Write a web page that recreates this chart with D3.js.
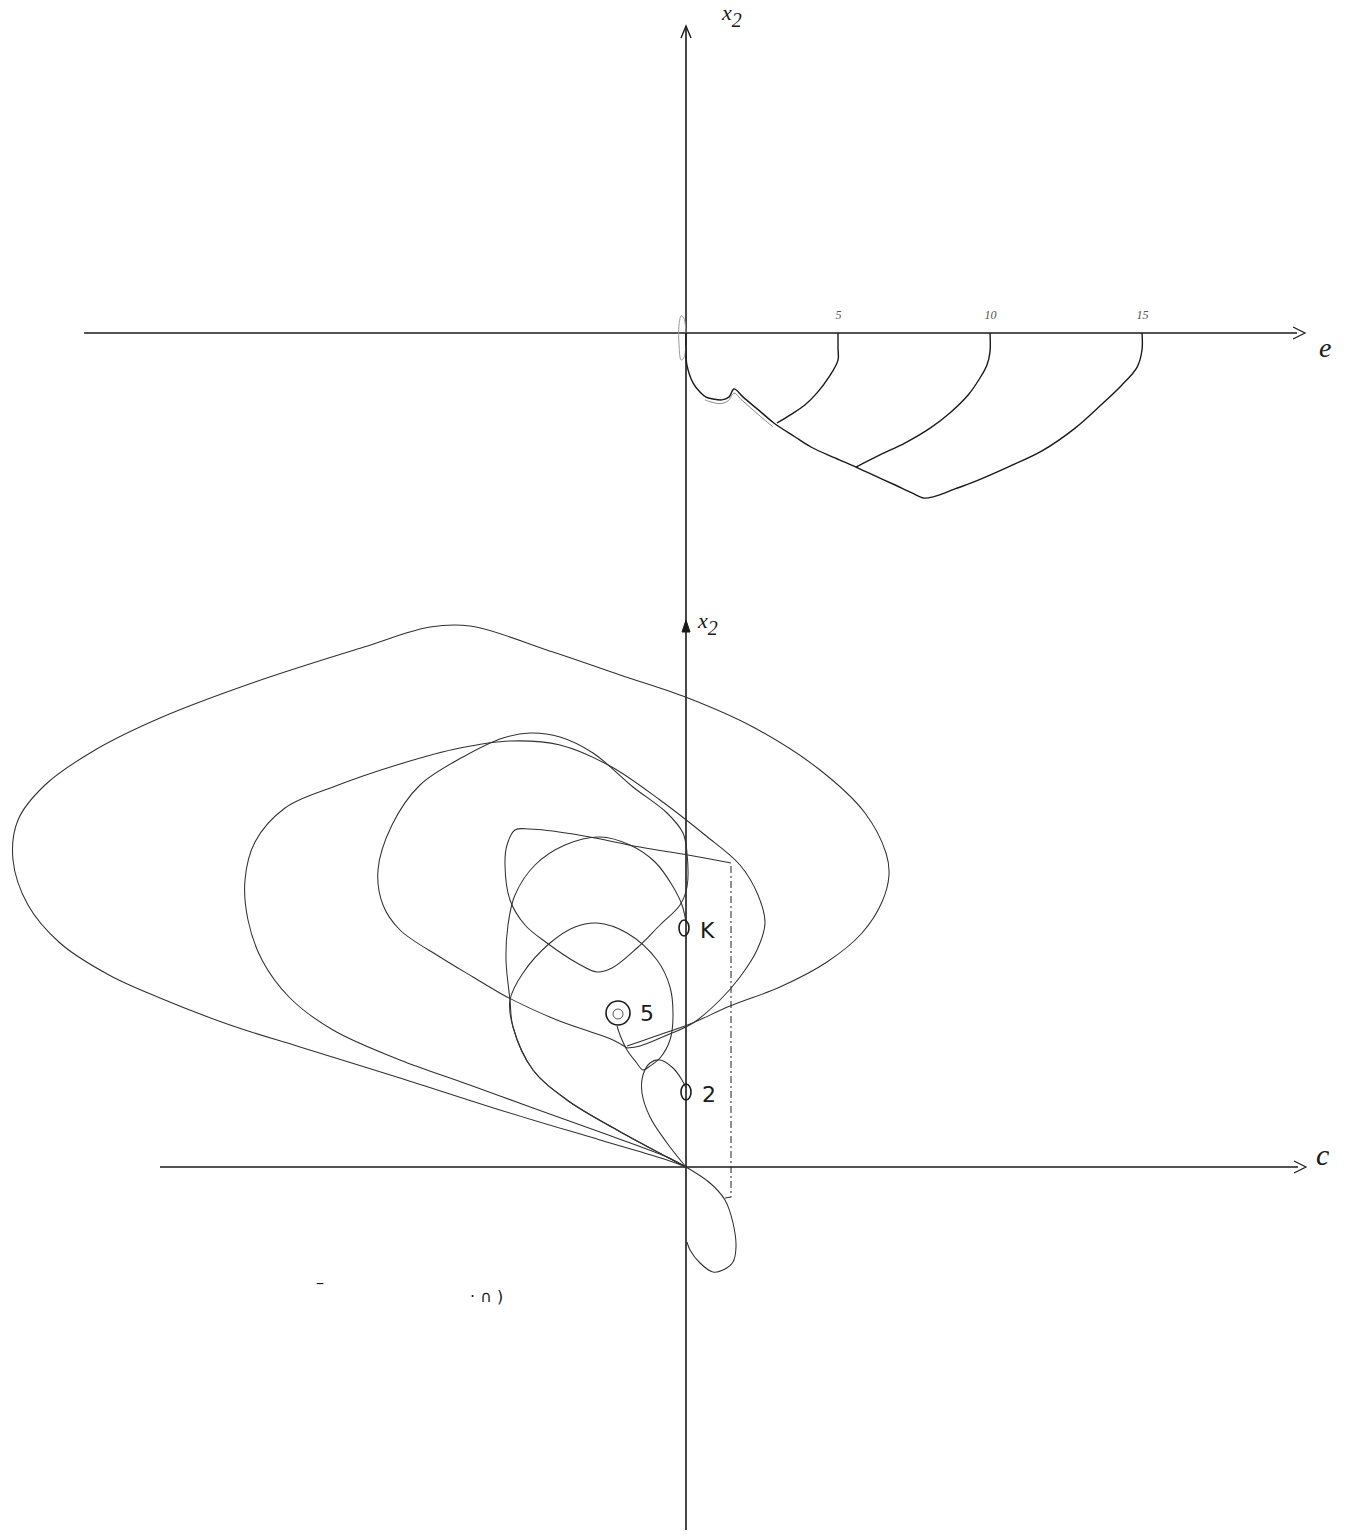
<!DOCTYPE html>
<html><head><meta charset="utf-8">
<script src="https://cdn.jsdelivr.net/npm/d3@7"></script>
<style>
html,body{margin:0;background:#fff;}
svg{display:block;}
</style></head><body>
<svg id="fig" width="1359" height="1539"></svg>
<script>
// ---------- top panel: (e, x2) plane ----------
const eTicks = [5, 10, 15];
const eAxisExtent = [-19.8, 20.1];
const trajE5 = [[5,0],[5.0,-0.49],[5.0,-0.89],[4.70,-1.45],[4.31,-1.97],[3.91,-2.37],[3.42,-2.70],[2.99,-2.96]];
const trajE10 = [[10,0],[10,-0.62],[9.90,-1.05],[9.67,-1.48],[9.28,-2.04],[8.68,-2.63],[8.03,-3.13],[7.20,-3.62],[6.38,-4.01],[5.59,-4.41]];
const trajE15 = [[15,0],[15,-0.56],[14.84,-1.12],[14.34,-1.71],[13.65,-2.37],[12.80,-3.13],[11.71,-3.88],[10.66,-4.38],[9.47,-4.90],[8.85,-5.13],[8.13,-5.39],[7.83,-5.43],[7.43,-5.26],[6.88,-5.00],[6.22,-4.70],[5.59,-4.41],[4.90,-4.11],[4.11,-3.75],[3.59,-3.42],[2.89,-2.96],[2.43,-2.57],[1.88,-2.11],[1.58,-1.84],[1.41,-2.11],[1.18,-2.20],[0.89,-2.17],[0.66,-2.11],[0.46,-1.94],[0.23,-1.64],[0.03,-1.05],[0,-0.56],[0,0]];
const trajE15Shadow = [[2.85,-3.08],[2.40,-2.70],[1.85,-2.22],[1.58,-1.98],[1.40,-2.22],[1.15,-2.32],[0.86,-2.28],[0.62,-2.20]];
const originLoopTop = [[0,0],[-0.07,0.49],[-0.16,0.56],[-0.23,0.26],[-0.23,-0.39],[-0.16,-0.89],[-0.07,-0.82],[0,-0.39]];

// ---------- bottom panel: (c, x2) plane ----------
const cAxisExtent = [-52.6, 61.2];
const trajOuter = [[0,0],[-1.9,0.7],[-8.6,2.7],[-18.6,5.7],[-28.6,8.9],[-38.6,12.0],[-45.6,14.2],[-52.6,16.9],[-57.7,19.2],[-62.6,22.4],[-65.8,26.2],[-67.3,30.7],[-66.8,34.7],[-64.1,38.2],[-59.1,41.7],[-52.6,44.9],[-43.1,48.5],[-32.2,52.0],[-25.6,54.0],[-21.6,54.1],[-13.3,51.5],[-6.6,49.2],[0.2,46.9],[6.7,44.0],[13.4,39.7],[17.9,35.4],[20.0,31.4],[20.3,29.2],[19.6,26.5],[17.6,23.4],[14.1,20.5],[9.4,18.0],[4.4,16.1],[0.4,14.3],[-3.3,13.0],[-5.9,12.1]];
const trajMiddle = [[0,0],[-1.9,1.0],[-8.6,3.5],[-15.3,5.9],[-21.9,8.3],[-28.6,10.7],[-35.3,13.7],[-39.6,16.9],[-42.4,20.7],[-43.8,24.7],[-44.1,28.7],[-43.1,32.5],[-40.1,35.9],[-35.3,38.0],[-28.6,40.3],[-22.6,41.9],[-17.6,42.6],[-12.6,42.2],[-7.6,40.1],[-2.6,36.7],[1.9,33.2],[5.4,30.2],[7.2,27.2],[7.9,24.4],[7.1,21.7],[5.4,19.0],[3.4,16.7],[0.7,14.4],[-2.1,13.1],[-4.6,12.1],[-5.9,11.9]];
const trajInner = [[4.5,30.4],[0.2,31.2],[-4.6,32.0],[-11.3,33.3],[-15.6,33.8],[-17.1,33.7],[-17.9,32.2],[-18.1,30.2],[-17.6,26.7],[-16.1,24.2],[-13.9,22.4],[-10.9,20.4],[-8.9,19.5],[-7.4,19.9],[-4.9,21.9],[-2.6,24.2],[-0.6,26.2],[0.1,28.0],[0.1,31.4],[-0.3,33.4],[-1.9,35.4],[-5.3,38.0],[-9.3,41.4],[-12.6,43.0],[-15.6,43.4],[-18.3,42.9],[-22.3,41.0],[-26.6,38.2],[-29.4,34.2],[-30.8,29.7],[-30.3,26.2],[-28.6,23.7],[-24.6,21.0],[-21.3,19.0],[-17.9,17.0],[-12.9,14.7],[-7.3,12.7],[-5.9,11.9]];
const trajToK = [[0,0],[-1.9,1.0],[-6.9,3.7],[-11.9,6.7],[-15.3,9.7],[-17.3,14.0],[-17.6,16.7],[-18.0,20.7],[-17.8,24.2],[-17.1,27.2],[-15.1,30.2],[-12.1,32.2],[-8.6,33.0],[-5.6,32.2],[-3.1,30.5],[-1.4,28.2],[-0.4,26.2],[0,24.5]];
const trajTo5 = [[0,0],[-1.9,1.0],[-6.9,3.7],[-11.9,6.7],[-15.3,9.7],[-17.3,14.0],[-17.6,16.7],[-16.3,19.4],[-13.6,22.4],[-11.1,24.0],[-8.9,24.4],[-5.9,23.4],[-2.9,20.7],[-1.6,18.0],[-1.3,15.0],[-1.6,12.7],[-2.6,10.9],[-3.6,10.1],[-4.3,9.7],[-5.0,10.5],[-5.9,11.7],[-6.6,13.2],[-6.9,14.1]];
const trajTo2 = [[0,0],[-1.9,2.4],[-3.6,5.0],[-4.4,7.4],[-4.3,9.2],[-3.6,10.4],[-2.6,10.7],[-1.3,9.9],[-0.4,8.7],[0,7.9]];
const trajLowerLobe = [[0,0],[2.4,-1.6],[3.9,-3.3],[4.7,-5.6],[5.0,-8.0],[4.7,-9.5],[3.7,-10.3],[2.7,-10.5],[1.4,-9.6],[0.4,-8.3],[0.1,-7.5]];
const jumpSegment = [[3.9,-3.1],[4.5,-3.0],[4.5,30.4]];
// end points and their labels
const endPoints = [
  {label: "5", c: -6.8, x2: 15.4, kind: "circle"},
  {label: "K", c: -0.2, x2: 23.9, kind: "loop"},
  {label: "2", c: 0.0, x2: 7.5, kind: "loop"}
];

// ---------- drawing ----------
const svg = d3.select("#fig");
const xTop = d3.scaleLinear().domain([0, 15]).range([686, 1142]);
const yTop = d3.scaleLinear().domain([0, -5]).range([333, 333 + 5 * 30.4]);
const xBot = d3.scaleLinear().domain([0, 10]).range([686, 786]);
const yBot = d3.scaleLinear().domain([0, 10]).range([1167, 1067]);

const lineTop = d3.line().x(d => xTop(d[0])).y(d => yTop(d[1])).curve(d3.curveCatmullRom.alpha(0.5));
const lineBot = d3.line().x(d => xBot(d[0])).y(d => yBot(d[1])).curve(d3.curveCatmullRom.alpha(0.5));
const lineBotStraight = d3.line().x(d => xBot(d[0])).y(d => yBot(d[1]));

const ink = "#1a1a1a";

// vertical x2 axis shared by both panels
svg.append("line")
  .attr("x1", xTop(0)).attr("x2", xTop(0))
  .attr("y1", yTop(10.1)).attr("y2", yBot(-36.3))
  .attr("stroke", ink).attr("stroke-width", 1.6);

// top arrow of x2
const ax = xTop(0), ay = yTop(10.1);
svg.append("path").attr("d", `M${ax-5},${ay+12} L${ax},${ay} L${ax+5},${ay+12}`)
  .attr("fill", "none").attr("stroke", ink).attr("stroke-width", 1.4);
svg.append("text").attr("x", ax + 36).attr("y", ay - 6)
  .attr("font-family", "Liberation Serif").attr("font-style", "italic").attr("font-size", 22).attr("fill", ink)
  .text("x").append("tspan").attr("dy", 7).attr("font-size", 20).text("2");

// e axis
const ey = yTop(0);
svg.append("line").attr("x1", xTop(eAxisExtent[0])).attr("x2", xTop(eAxisExtent[1]))
  .attr("y1", ey).attr("y2", ey).attr("stroke", ink).attr("stroke-width", 1.5);
const ex = xTop(eAxisExtent[1]);
svg.append("path").attr("d", `M${ex-4},${ey-6} L${ex+8},${ey} L${ex-4},${ey+6}`)
  .attr("fill", "none").attr("stroke", ink).attr("stroke-width", 1.2);
svg.append("text").attr("x", ex + 22).attr("y", ey + 24)
  .attr("font-family", "Liberation Serif").attr("font-style", "italic").attr("font-size", 28).attr("fill", ink).text("e");

// e tick labels
const eAxis = d3.axisTop(xTop).tickValues(eTicks).tickSize(0).tickPadding(14);
const eAxisG = svg.append("g").attr("transform", `translate(0,${ey})`).call(eAxis);
eAxisG.select(".domain").remove();
eAxisG.selectAll("text").attr("font-family", "Liberation Serif").attr("font-style", "italic")
  .attr("font-size", 12).attr("fill", "#555");

// top panel trajectories
svg.append("path").attr("d", lineTop(originLoopTop)).attr("fill", "none").attr("stroke", "#999").attr("stroke-width", 1);
svg.append("path").attr("d", lineTop(trajE15Shadow)).attr("fill", "none").attr("stroke", "#888").attr("stroke-width", 1);
[trajE5, trajE10, trajE15].forEach(t => {
  svg.append("path").attr("d", lineTop(t)).attr("fill", "none").attr("stroke", ink).attr("stroke-width", 1.4);
});

// c axis
const cy = yBot(0);
svg.append("line").attr("x1", xBot(cAxisExtent[0])).attr("x2", xBot(cAxisExtent[1]))
  .attr("y1", cy).attr("y2", cy).attr("stroke", ink).attr("stroke-width", 1.5);
const cx = xBot(cAxisExtent[1]);
svg.append("path").attr("d", `M${cx-4},${cy-6} L${cx+8},${cy} L${cx-4},${cy+6}`)
  .attr("fill", "none").attr("stroke", ink).attr("stroke-width", 1.2);
svg.append("text").attr("x", cx + 18).attr("y", cy - 2)
  .attr("font-family", "Liberation Serif").attr("font-style", "italic").attr("font-size", 30).attr("fill", ink).text("c");

// x2 arrow of the lower panel
const bx = xBot(0), by = yBot(54.7);
svg.append("path").attr("d", `M${bx-4},${by+12} L${bx},${by} L${bx+4},${by+12}Z`)
  .attr("fill", ink).attr("stroke", ink).attr("stroke-width", 1);
svg.append("text").attr("x", bx + 12).attr("y", by + 8)
  .attr("font-family", "Liberation Serif").attr("font-style", "italic").attr("font-size", 22).attr("fill", ink)
  .text("x").append("tspan").attr("dy", 7).attr("font-size", 20).text("2");

// lower panel trajectories
[trajOuter, trajMiddle, trajInner, trajToK, trajTo5, trajTo2, trajLowerLobe].forEach(t => {
  svg.append("path").attr("d", lineBot(t)).attr("fill", "none").attr("stroke", "#303030").attr("stroke-width", 1.05);
});
svg.append("path").attr("d", lineBotStraight(jumpSegment)).attr("fill", "none")
  .attr("stroke", "#333").attr("stroke-width", 1.1).attr("stroke-dasharray", "7,3,2,3");

// end point markers
endPoints.forEach(p => {
  const px = xBot(p.c), py = yBot(p.x2);
  if (p.kind === "circle") {
    svg.append("circle").attr("cx", px).attr("cy", py).attr("r", 12).attr("fill", "none").attr("stroke", ink).attr("stroke-width", 1.6);
    svg.append("circle").attr("cx", px).attr("cy", py + 1).attr("r", 5).attr("fill", "none").attr("stroke", "#555").attr("stroke-width", 1);
    svg.append("text").attr("x", px + 22).attr("y", py + 8).attr("font-family", "DejaVu Sans").attr("font-size", 22).attr("fill", ink).text(p.label);
  } else {
    svg.append("ellipse").attr("cx", px).attr("cy", py).attr("rx", 5).attr("ry", 8).attr("fill", "none").attr("stroke", ink).attr("stroke-width", 1.6);
    svg.append("text").attr("x", px + 16).attr("y", py + 10).attr("font-family", "DejaVu Sans").attr("font-size", 22).attr("fill", ink).text(p.label);
  }
});

// stray pencil marks at the foot of the page
svg.append("text").attr("x", 316).attr("y", 1288).attr("font-family", "DejaVu Sans").attr("font-size", 16).attr("fill", ink).text("–");
svg.append("text").attr("x", 470).attr("y", 1302).attr("font-family", "DejaVu Sans").attr("font-size", 16).attr("fill", ink).text("· ∩ )");
</script>
</body></html>
